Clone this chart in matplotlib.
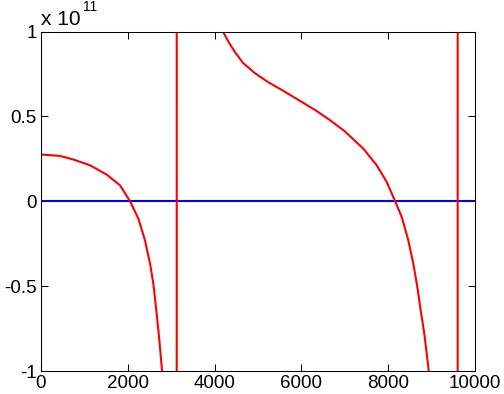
import numpy as np
import matplotlib
matplotlib.use('Agg')
import matplotlib.pyplot as plt

plt.rcParams['font.family'] = ['Liberation Sans', 'DejaVu Sans']
plt.rcParams['axes.unicode_minus'] = False

# red curve, y in units of 1e11
curve_x = [0, 438, 745, 1129, 1513, 1820, 2051, 2243, 2396, 2512, 2588, 2665,
           2727, 2788, 2900, 3000, 3080, 3120, 3135, 3175, 3300, 3600, 3900,
           4100, 4201, 4316, 4470, 4662, 4931, 5238, 5546, 5929, 6313, 6640,
           6990, 7426, 7735, 7965, 8160, 8311, 8463, 8578, 8671, 8748, 8832,
           8924, 9000, 9150, 9300, 9500, 9590, 9612, 9700, 9850, 10000]
curve_y = [0.275, 0.267, 0.246, 0.212, 0.157, 0.094, 0.0, -0.102, -0.230,
           -0.367, -0.485, -0.662, -0.819, -0.996, -1.5, -2.5, -6.0, -40.0,
           40.0, 12.0, 5.0, 2.3, 1.4, 1.13, 0.996, 0.941, 0.878, 0.813, 0.754,
           0.701, 0.656, 0.597, 0.538, 0.481, 0.414, 0.310, 0.212, 0.114, 0.0,
           -0.092, -0.230, -0.367, -0.505, -0.642, -0.780, -0.976, -1.2, -1.8,
           -3.0, -9.0, -60.0, 60.0, 10.0, 4.0, 2.5]
scale = 1e11

zero_x = [0, 10000]
zero_y = [0, 0]

fig = plt.figure(figsize=(5.04, 3.94), dpi=100)
ax = fig.add_axes([41 / 504, 23 / 394, 434 / 504, 339.5 / 394])

ax.plot(zero_x, np.array(zero_y) * scale, color='#0000ff', lw=1.5)
ax.plot(curve_x, np.array(curve_y) * scale, color='#ff0000', lw=1.5)

ax.set_xlim(0, 10000)
ax.set_ylim(-1e11, 1e11)
ax.set_xticks([0, 2000, 4000, 6000, 8000, 10000])
ax.set_xticklabels(['0', '2000', '4000', '6000', '8000', '10000'])
ax.set_yticks([-1e11, -0.5e11, 0, 0.5e11, 1e11])
ax.set_yticklabels(['-1', '-0.5', '0', '0.5', '1'])
ax.tick_params(direction='in', length=5, width=0.75, labelsize=13.5,
               top=True, right=True, pad=3)
for s in ax.spines.values():
    s.set_linewidth(0.75)

fig.text(41 / 504, 1 - 25 / 394, 'x 10', fontsize=15, ha='left', va='baseline')
fig.text(83 / 504, 1 - 11 / 394, '11', fontsize=10, ha='left', va='baseline')

fig.savefig('out.png', dpi=100)
